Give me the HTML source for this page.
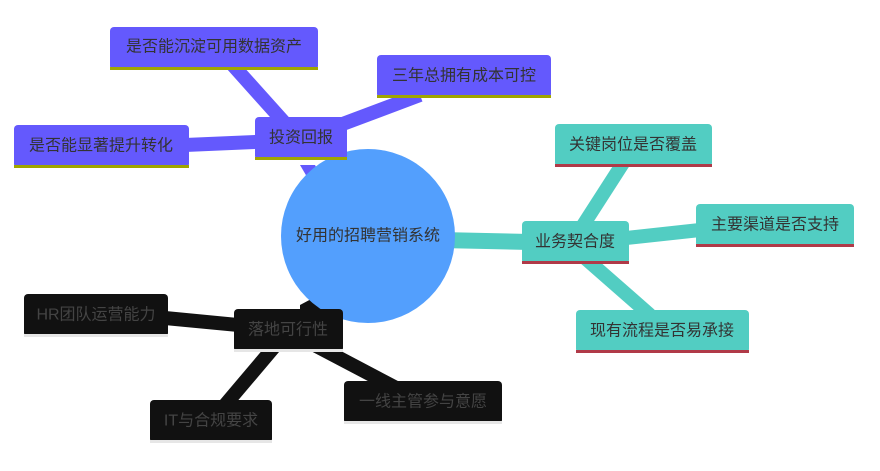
<!DOCTYPE html>
<html><head><meta charset="utf-8"><style>
html,body{margin:0;padding:0;background:#fff;width:880px;height:471px;overflow:hidden}
text{font-family:"Liberation Sans","Noto Sans CJK SC",sans-serif;font-size:16px;text-anchor:middle;dominant-baseline:central}
</style></head><body>
<svg width="880" height="471" viewBox="0 0 880 471" xmlns="http://www.w3.org/2000/svg">
<g stroke-linecap="butt">
<polygon points="300,165 315,165 322,178 310,182" fill="#6459fd"/>
<line x1="300" y1="140" x2="230" y2="62" stroke="#6459fd" stroke-width="14"/>
<line x1="300" y1="140" x2="420" y2="95" stroke="#6459fd" stroke-width="14"/>
<line x1="300" y1="140" x2="185" y2="145" stroke="#6459fd" stroke-width="14"/>
<line x1="440" y1="240" x2="575" y2="243" stroke="#52cdc2" stroke-width="16"/>
<line x1="580" y1="230" x2="625" y2="160" stroke="#52cdc2" stroke-width="14"/>
<line x1="580" y1="243" x2="700" y2="230" stroke="#52cdc2" stroke-width="14"/>
<line x1="585" y1="258" x2="650" y2="315" stroke="#52cdc2" stroke-width="14"/>
<polygon points="300,305 315,297 322,312 300,312" fill="#111"/>
<line x1="290" y1="330" x2="165" y2="318" stroke="#111" stroke-width="14"/>
<line x1="280" y1="340" x2="225" y2="405" stroke="#111" stroke-width="14"/>
<line x1="305" y1="340" x2="400" y2="390" stroke="#111" stroke-width="14"/>
</g>
<circle cx="368" cy="236" r="87" fill="#539ffd"/>
<text x="368" y="236" fill="#333">好用的招聘营销系统</text>

<g>
<rect x="110" y="27" width="208" height="43" rx="4" fill="#6459fd"/><rect x="110" y="67" width="208" height="3" fill="#a0a500"/>
<text x="214" y="47" fill="#333">是否能沉淀可用数据资产</text>
<rect x="377" y="55" width="174" height="43" rx="4" fill="#6459fd"/><rect x="377" y="95" width="174" height="3" fill="#a0a500"/>
<text x="464" y="76" fill="#333">三年总拥有成本可控</text>
<rect x="14" y="125" width="175" height="43" rx="4" fill="#6459fd"/><rect x="14" y="165" width="175" height="3" fill="#a0a500"/>
<text x="101" y="146" fill="#333">是否能显著提升转化</text>
<rect x="255" y="117" width="92" height="43" rx="4" fill="#6459fd"/><rect x="255" y="157" width="92" height="3" fill="#a0a500"/>
<text x="301" y="138" fill="#333">投资回报</text>
</g>
<g>
<rect x="555" y="124" width="157" height="43" rx="4" fill="#52cdc2"/><rect x="555" y="164" width="157" height="3" fill="#b03a48"/>
<text x="633" y="145" fill="#333">关键岗位是否覆盖</text>
<rect x="696" y="204" width="158" height="43" rx="4" fill="#52cdc2"/><rect x="696" y="244" width="158" height="3" fill="#b03a48"/>
<text x="775" y="225" fill="#333">主要渠道是否支持</text>
<rect x="522" y="221" width="107" height="43" rx="4" fill="#52cdc2"/><rect x="522" y="261" width="107" height="3" fill="#b03a48"/>
<text x="575" y="242" fill="#333">业务契合度</text>
<rect x="576" y="310" width="173" height="43" rx="4" fill="#52cdc2"/><rect x="576" y="350" width="173" height="3" fill="#b03a48"/>
<text x="662" y="331" fill="#333">现有流程是否易承接</text>
</g>
<g>
<rect x="24" y="294" width="144" height="43" rx="4" fill="#111"/><rect x="24" y="334" width="144" height="3" fill="#e6e6e6"/>
<text x="96" y="315" fill="#444">HR团队运营能力</text>
<rect x="234" y="309" width="109" height="43" rx="4" fill="#111"/><rect x="234" y="349" width="109" height="3" fill="#e6e6e6"/>
<text x="288" y="330" fill="#444">落地可行性</text>
<rect x="150" y="400" width="122" height="43" rx="4" fill="#111"/><rect x="150" y="440" width="122" height="3" fill="#e6e6e6"/>
<text x="211" y="421" fill="#444">IT与合规要求</text>
<rect x="344" y="381" width="158" height="43" rx="4" fill="#111"/><rect x="344" y="421" width="158" height="3" fill="#e6e6e6"/>
<text x="423" y="402" fill="#444">一线主管参与意愿</text>
</g>
</svg>
</body></html>
